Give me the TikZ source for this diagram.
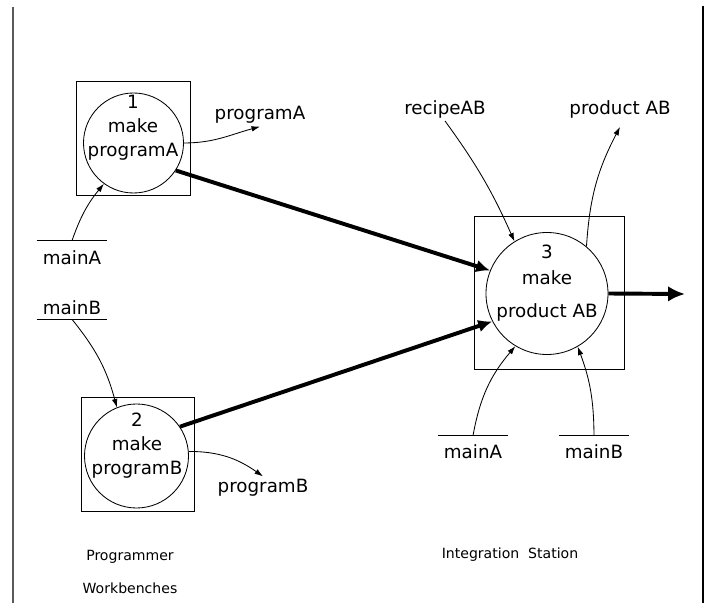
\documentclass[tikz,border=0pt]{standalone}
\usepackage{fontspec}
\setmainfont{DejaVu Sans}
\usetikzlibrary{arrows.meta}

\tikzset{
  proc/.style = {draw, circle, line width=0.6pt, inner sep=0pt},
  station/.style = {draw, rectangle, line width=0.6pt, inner sep=0pt},
  txt/.style = {font=\fontsize{13}{17}\selectfont, inner sep=1pt},
  lbl/.style = {txt, inner sep=2pt},
  store/.style = {txt, minimum width=17.5mm},
  small/.style = {font=\fontsize{10}{12}\selectfont},
  flow/.style = {-{Latex[length=6pt,width=4pt]}, line width=0.6pt},
  bigflow/.style = {-{Latex[length=10pt,width=9pt]}, line width=2.8pt}
}

\begin{document}
\begin{tikzpicture}[x=0.25mm, y=0.25mm]
    \useasboundingbox (0,0) rectangle (711,-603);
    \draw[black!65, line width=0.9pt] (13,-7) -- (13,-603);
    \draw[line width=1pt] (703,-6) -- (703,-603);

    % programmer workbenches
    \node[station, minimum width=28.5mm, minimum height=28.5mm] (box1) at (133,-138) {};
    \node[proc, minimum size=25mm] (c1) at (133.5,-143) {};
    \node[txt, align=center] (t1) at (133,-128) {1\\make\\programA};

    \node[station, minimum width=28.25mm, minimum height=28.5mm] (box2) at (137.5,-454) {};
    \node[proc, minimum size=26mm] (c2) at (136.5,-456) {};
    \node[txt, align=center] (t2) at (137,-446) {2\\make\\programB};

    % integration station
    \node[station, minimum width=37.5mm, minimum height=38.25mm] (box3) at (549,-292.5) {};
    \node[proc, minimum size=30.5mm] (c3) at (547,-293.5) {};
    \node[txt, align=center] (t3) at (547,-283) {3\\[1.5pt]make\\[7pt]product AB};

    % labels
    \node[lbl] (lpA) at (260,-115) {programA};
    \node[lbl] (lpB) at (263,-488) {programB};
    \node[lbl] (lrAB) at (445,-109) {recipeAB};
    \node[lbl] (lpAB) at (620,-109) {product AB};

    % stores
    \node[store, inner ysep=7.1pt] (mA1) at (72,-258) {mainA};
    \draw[line width=0.6pt] (mA1.north west) -- (mA1.north east);
    \node[store, inner ysep=3.2pt] (mB1) at (72,-307.5) {mainB};
    \draw[line width=0.6pt] (mB1.south west) -- (mB1.south east);
    \node[store, inner ysep=6.4pt] (mA2) at (473,-452) {mainA};
    \draw[line width=0.6pt] (mA2.north west) -- (mA2.north east);
    \node[store, inner ysep=6.4pt] (mB2) at (594,-452) {mainB};
    \draw[line width=0.6pt] (mB2.north west) -- (mB2.north east);

    \coordinate (out) at (685,-294);

    % thin flows
    \draw[flow] (mA1.north) to[bend left=10] (c1.234);
    \draw[flow] (c1.0) to[out=0, in=195] (lpA.south);
    \draw[flow] (mB1.south) to[bend left=12] (c2.112);
    \draw[flow] (c2.5) to[out=0, in=145] (lpB.north);
    \draw[flow] (lrAB.south) to[bend left=6] (c3.122);
    \draw[flow] (c3.50) to[bend left=12] ([yshift=-1.5mm]lpAB.south);
    \draw[flow] (mA2.north) to[bend left=15] (c3.239);
    \draw[flow] (mB2.north) to[bend right=10] (c3.-60);

    % thick flows
    \draw[bigflow] (c1.-33) -- (c3.158);
    \draw[bigflow] (c2.34) -- (c3.207);
    \draw[bigflow, -{Latex[length=12pt,width=11pt]}] (c3.east) -- (out);

    \node[small] (prog) at (130,-557) {Programmer};
    \node[small] (work) at (130,-588) {Workbenches};
    \node[small] (integ) at (510,-555) {Integration\ \ Station};
\end{tikzpicture}
\end{document}
